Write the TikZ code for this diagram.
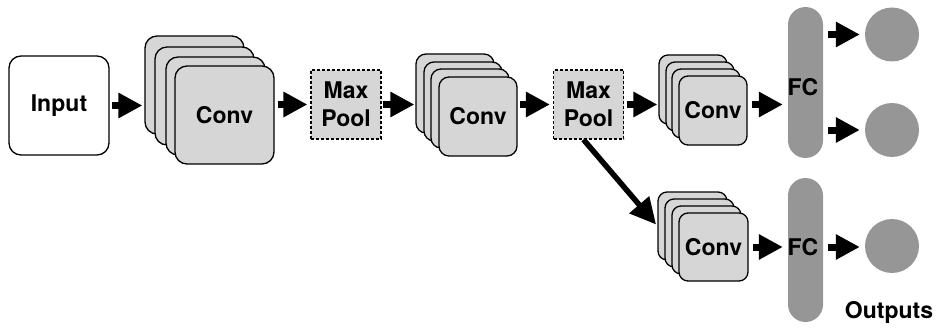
\documentclass[tikz,border=0pt]{standalone}
\usepackage{fontspec}
\setmainfont{TeX Gyre Heros}
\usetikzlibrary{arrows.meta}
\definecolor{cardfill}{HTML}{D6D6D6}
\definecolor{fcgray}{HTML}{969696}
\begin{document}
\begin{tikzpicture}[x=1pt,y=-1pt,
  every node/.style={font=\fontsize{23}{28}\selectfont\bfseries, inner sep=0pt},
  card/.style={draw, line width=1.3pt, fill=cardfill},
  inbox/.style={draw, line width=1.3pt, fill=white, rounded corners=12pt,
    minimum width=100pt, minimum height=99pt},
  poolbox/.style={draw, line width=1.2pt, fill=cardfill, dash pattern=on 3pt off 2pt,
    minimum width=70pt, minimum height=69pt, align=center},
  fcbar/.style={fill=fcgray, minimum width=35pt, rounded corners=17.5pt},
  outnode/.style={circle, fill=fcgray, minimum size=54pt},
  flow/.style={line width=7pt, -{Triangle[length=24pt 0 0,width=24pt 0 0]}},
  branch/.style={line width=5.5pt, -{Triangle[length=26pt 0 0,width=25pt 0 0]}}
]
\useasboundingbox (0,0) rectangle (938,329);

% input
\node[inbox] (in) at (59,105.5) {Input};

% first convolution stack
\begin{scope}[every node/.append style={card, rounded corners=12pt, minimum width=99pt, minimum height=98pt}]
  \node (c1a) at (194.5,85) {};
  \node (c1b) at (204.5,96) {};
  \node (c1c) at (215.5,106) {};
  \node (c1d) at (224.5,115) {Conv};
\end{scope}

% first pooling
\node[poolbox] (mp1) at (346,104.5) {Max\\Pool};

% second convolution stack
\begin{scope}[every node/.append style={card, rounded corners=10pt, minimum width=78pt, minimum height=79pt}]
  \node (c2a) at (455,93.5) {};
  \node (c2b) at (463,101.5) {};
  \node (c2c) at (470,108.5) {};
  \node (c2d) at (478,116.5) {Conv};
\end{scope}

% second pooling
\node[poolbox] (mp2) at (588.5,104.5) {Max\\Pool};

% upper branch convolution stack
\begin{scope}[every node/.append style={card, rounded corners=9pt, minimum width=68pt, minimum height=69pt}]
  \node (c3a) at (693,89.5) {};
  \node (c3b) at (700,96.5) {};
  \node (c3c) at (706,103.5) {};
  \node (c3d) at (713,110.5) {Conv};
\end{scope}

% lower branch convolution stack
\begin{scope}[every node/.append style={card, rounded corners=9pt, minimum width=69pt, minimum height=68pt}]
  \node (c4a) at (692.5,226) {};
  \node (c4b) at (699.5,233) {};
  \node (c4c) at (706.5,240) {};
  \node (c4d) at (713.5,247) {Conv};
\end{scope}

% fully connected layers
\node[fcbar, minimum height=151pt] (fc1) at (805.5,82.5) {};
\node at (803,87) {FC};
\node[fcbar, minimum height=144pt] (fc2) at (805.5,250) {};
\node at (803,247) {FC};

% outputs
\node[outnode] (o1) at (892,34.5) {};
\node[outnode] (o2) at (892,130) {};
\node[outnode] (o3) at (892,246) {};
\node[anchor=base] (outlbl) at (889,318) {Outputs};

% connectors
\draw[flow, shorten <=2pt, shorten >=2pt] (in.east) -- (in.east -| c1a.west);
\draw[flow, shorten <=3pt, shorten >=3pt] (c1d.east |- mp1.west) -- (mp1.west);
\draw[flow, shorten <=1pt, shorten >=1pt] (mp1.east) -- (mp1.east -| c2a.west);
\draw[flow, shorten <=2pt, shorten >=3pt] (c2d.east |- mp2.west) -- (mp2.west);
\draw[flow, shorten <=3pt, shorten >=1pt] (mp2.east) -- (mp2.east -| c3a.west);
\draw[flow, shorten <=4pt, shorten >=5pt] (c3d.east |- mp2.east) -- (fc1.west |- mp2.east);
\draw[flow, shorten <=4pt, shorten >=5pt] (c4d.east) -- (fc2.west |- c4d.east);
\draw[flow, shorten <=5pt, shorten >=5pt] (fc1.east |- o1.west) -- (o1.west);
\draw[flow, shorten <=5pt, shorten >=5pt] (fc1.east |- o2.west) -- (o2.west);
\draw[flow, shorten <=5pt, shorten >=5pt] (fc2.east |- c4d.east) -- (o3.west |- c4d.east);
\draw[branch, shorten >=2pt] ([xshift=-5pt]mp2.south) -- (c4a.west);
\end{tikzpicture}
\end{document}
